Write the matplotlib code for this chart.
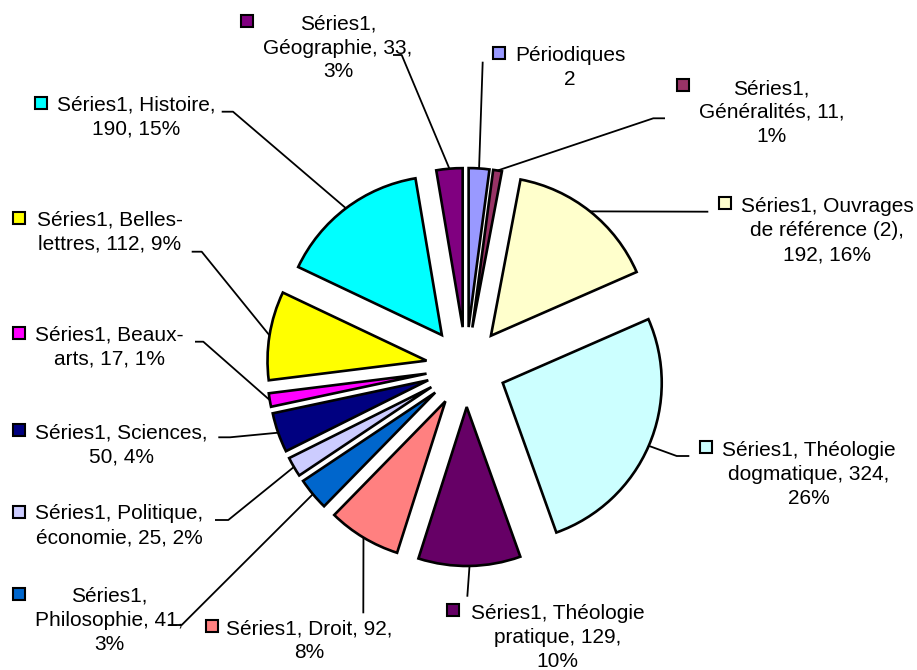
import matplotlib.pyplot as plt
import matplotlib.patches as mpatches
import numpy as np

# data, clockwise from 12 o'clock
categories = ['Périodiques', 'Généralités', 'Ouvrages de référence (2)',
              'Théologie dogmatique', 'Théologie pratique', 'Droit',
              'Philosophie', 'Politique, économie', 'Sciences', 'Beaux-arts',
              'Belles-lettres', 'Histoire', 'Géographie']
# Périodiques slice size (label only says "2")
values = [26, 11, 192, 324, 129, 92, 41, 25, 50, 17, 112, 190, 33]
label_texts = ['Périodiques\n2',
               'Séries1,\nGénéralités, 11,\n1%',
               'Séries1, Ouvrages\nde référence (2),\n192, 16%',
               'Séries1, Théologie\ndogmatique, 324,\n26%',
               'Séries1, Théologie\npratique, 129,\n10%',
               'Séries1, Droit, 92,\n8%',
               'Séries1,\nPhilosophie, 41,\n3%',
               'Séries1, Politique,\néconomie, 25, 2%',
               'Séries1, Sciences,\n50, 4%',
               'Séries1, Beaux-\narts, 17, 1%',
               'Séries1, Belles-\nlettres, 112, 9%',
               'Séries1, Histoire,\n190, 15%',
               'Séries1,\nGéographie, 33,\n3%']
colors = ['#9999FF', '#993366', '#FFFFCC', '#CCFFFF', '#660066', '#FF8080',
          '#0066CC', '#CCCCFF', '#000080', '#FF00FF', '#FFFF00', '#00FFFF',
          '#800080']

# layout (pixel coords, y from top)
W, H = 917, 670
text_pos = [(570, 67.5), (771.7, 112.5), (827, 230.8), (808.8, 474.4),
            (557.5, 637.9), (309.5, 640.5), (109.3, 620.3), (119.3, 525.8),
            (121.2, 445), (109.5, 347.2), (109.5, 232.3), (136.2, 116.7),
            (338, 48)]
key_pos = [(499.3, 53.3), (682.7, 85), (725, 203.3), (706, 446.7),
           (453.3, 610), (211.7, 626), (19.3, 594), (19.3, 511.7),
           (19.3, 430), (19.3, 333.3), (19.3, 218.3), (41, 102.7),
           (246.7, 21)]
leader_pts = [[(482.7, 61.7)],
              [(665, 118.3), (653.3, 118.3)],
              [(708.3, 211.7)],
              [(689.3, 456), (676.7, 456)],
              [(467.3, 596.7)],
              [(363.3, 613.3)],
              [(168.3, 625), (181.7, 625)],
              [(215, 520), (228.3, 520)],
              [(218.3, 437.3), (230, 437.3)],
              [(195, 341.7), (203.3, 341.7)],
              [(191.7, 251.7), (201.7, 251.7)],
              [(221.7, 111.7), (233, 111.7)],
              [(393, 55), (401.7, 55)]]

fig = plt.figure(figsize=(W / 100, H / 100), dpi=100)
ax = fig.add_axes([0, 0, 1, 1])

wedges, _ = ax.pie(values, colors=colors, explode=[40] * len(values),
                   radius=159, center=(466, H - 367), startangle=90,
                   counterclock=False,
                   wedgeprops=dict(edgecolor='black', linewidth=1.9))
ax.set_xlim(0, W)
ax.set_ylim(0, H)
ax.set_aspect('equal')
ax.axis('off')

for i, w in enumerate(wedges):
    mid = np.deg2rad((w.theta1 + w.theta2) / 2)
    ax_x = w.center[0] + w.r * np.cos(mid)
    ax_y = w.center[1] + w.r * np.sin(mid)
    xs = [p[0] for p in leader_pts[i]] + [ax_x]
    ys = [H - p[1] for p in leader_pts[i]] + [ax_y]
    ax.plot(xs, ys, color='black', lw=1.3, solid_capstyle='butt')

    tx, ty = text_pos[i]
    ax.text(tx, H - ty, label_texts[i], ha='center', va='center',
            fontsize=15, family='Liberation Sans', linespacing=1.33)
    kx, ky = key_pos[i]
    ax.add_patch(mpatches.Rectangle((kx - 6, H - ky - 6), 12, 12,
                                    facecolor=colors[i], edgecolor='black',
                                    lw=1.5))

fig.savefig('out.png', dpi=100)
